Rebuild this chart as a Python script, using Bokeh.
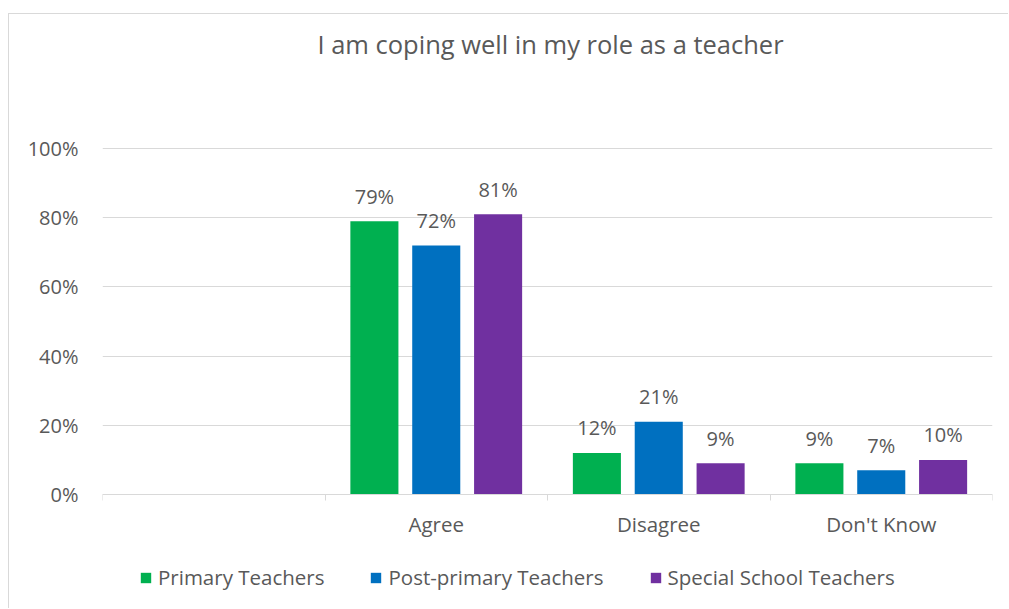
from bokeh.plotting import figure
from bokeh.models import (Range1d, LinearAxis, FixedTicker, NumeralTickFormatter,
                          Legend, LegendItem, ColumnDataSource, Label)
from bokeh.transform import dodge
from bokeh.core.properties import value
from bokeh.embed import file_html
from bokeh.resources import INLINE

title_text = "I am coping well in my role as a teacher"
axis_factors = ["", "Agree", "Disagree", "Don't Know"]
categories = ["Agree", "Disagree", "Don't Know"]
series_names = ["Primary Teachers", "Post-primary Teachers", "Special School Teachers"]
primary = [0.79, 0.12, 0.09]
post_primary = [0.72, 0.21, 0.07]
special = [0.81, 0.09, 0.10]
y_ticks = [0, 0.2, 0.4, 0.6, 0.8, 1.0]

colors = ["#00B050", "#0070C0", "#7030A0"]
text_color = "#595959"
grid_color = "#D9D9D9"
FONT = "Open Sans"

n = len(axis_factors)
centers = [i + 0.5 for i in range(n)]
cat_pos = [centers[axis_factors.index(c)] for c in categories]

src = ColumnDataSource(dict(
    cat=categories, pos=cat_pos,
    s0=primary, s1=post_primary, s2=special,
    l0=[f"{round(v*100)}%" for v in primary],
    l1=[f"{round(v*100)}%" for v in post_primary],
    l2=[f"{round(v*100)}%" for v in special],
))
axis_src = ColumnDataSource(dict(x=centers, y=[0] * n, label=axis_factors))

# layout: canvas 1000x595; plot frame spans the full height (585 px) so that the title and
# legend can live inside it; 346 px per 100 %.
PX = 346.0
top_px, bottom_px = 134.0, 105.0   # space above 100% line and below 0% line inside the frame
p = figure(x_range=Range1d(0, n), y_range=Range1d(-bottom_px / PX, 1 + top_px / PX),
           width=1000, height=595, output_backend="svg", toolbar_location=None,
           x_axis_location=None, y_axis_location="left",
           min_border_left=93, min_border_right=17, min_border_top=0, min_border_bottom=10)
p.styles = {"margin-left": "8px", "margin-top": "13px",
            "border-top": "1px solid #D9D9D9", "border-left": "1px solid #D9D9D9"}
p.outline_line_color = None
p.background_fill_color = "white"
p.border_fill_color = "white"

# title
p.add_layout(Label(x=n / 2, y=1 + 105 / PX, x_offset=3, text=title_text,
                   text_align="center", text_baseline="middle",
                   text_font=FONT, text_font_size="25.5px", text_color=text_color))

# y axis
yax = p.yaxis[0]
yax.ticker = FixedTicker(ticks=y_ticks)
yax.formatter = NumeralTickFormatter(format="0%")
yax.axis_line_color = None
yax.major_tick_line_color = None
yax.minor_tick_line_color = None
yax.major_label_standoff = 18
yax.major_label_text_font = FONT
yax.major_label_text_font_size = "20px"
yax.major_label_text_color = text_color
p.ygrid.ticker = FixedTicker(ticks=y_ticks)
p.ygrid.grid_line_color = grid_color
p.xgrid.grid_line_color = None

# x axis pinned at 0 with tick marks at category boundaries
xax = LinearAxis(fixed_location=0, ticker=FixedTicker(ticks=[], minor_ticks=list(range(n + 1))))
xax.major_tick_line_color = None
xax.major_tick_out = 0
xax.major_tick_in = 0
xax.minor_tick_out = 6
xax.minor_tick_in = 0
xax.minor_tick_line_color = grid_color
xax.axis_line_color = grid_color
xax.major_label_standoff = 0
xax.major_label_text_font_size = "1px"
p.add_layout(xax, "below")

# category labels
p.text(x="x", y="y", text="label", source=axis_src, text_align="center", text_baseline="middle",
       y_offset=29, text_font=value(FONT), text_font_size=value("20.5px"), text_color=text_color)

# bars
offsets = [-0.278, 0.0, 0.278]
bar_w = 0.216
renderers = []
for i in range(3):
    r = p.vbar(x=dodge("pos", offsets[i]), top=f"s{i}", width=bar_w,
               source=src, fill_color=colors[i], line_color=None)
    renderers.append(r)
    p.text(x=dodge("pos", offsets[i]), y=f"s{i}", text=f"l{i}", source=src,
           text_align="center", text_baseline="middle", y_offset=-25,
           text_font=value(FONT), text_font_size=value("20px"), text_color=text_color)

legend = Legend(items=[LegendItem(label=series_names[i], renderers=[renderers[i]]) for i in range(3)],
                orientation="horizontal", location=(37, 8))
legend.glyph_width = 13
legend.glyph_height = 13
legend.label_standoff = 6
legend.spacing = 45
legend.padding = 0
legend.margin = 0
legend.border_line_color = None
legend.background_fill_alpha = 0
legend.label_text_font = FONT
legend.label_text_font_size = "20.5px"
legend.label_text_color = text_color
p.add_layout(legend, "center")

open("out.html", "w").write(file_html(p, INLINE))
